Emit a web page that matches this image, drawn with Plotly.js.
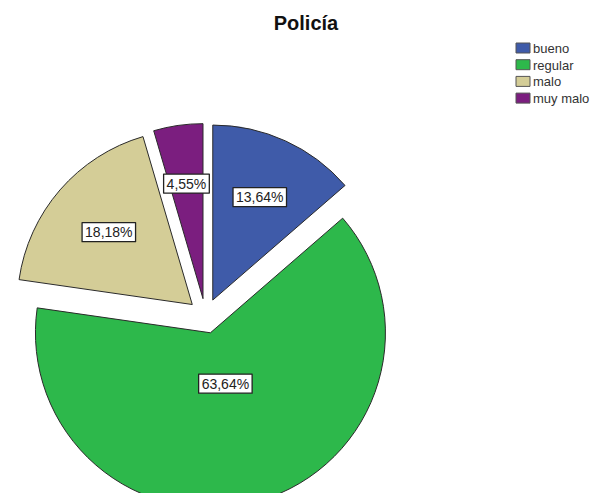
<!DOCTYPE html>
<html>
<head>
<meta charset="utf-8">
<script src="https://cdn.plot.ly/plotly-3.0.1.min.js"></script>
<style>
html, body { margin:0; padding:0; overflow:hidden; background:#fff; }
#chart { width:596px; height:560px; }
</style>
</head>
<body>
<div id="chart"></div>
<script>
const categories = ['bueno', 'regular', 'malo', 'muy malo'];
const counts = [3, 14, 4, 1];
const sliceColors = ['#3F5BA9', '#2DB84B', '#D4CD97', '#7B1E7F'];
const chartTitle = 'Policía';

const W = 596, H = 560;
const PULL = 0.1;
const FONT = 'Liberation Sans, Arial, sans-serif';

const trace = {
  type: 'pie',
  labels: categories,
  values: counts,
  sort: false,
  direction: 'clockwise',
  rotation: 0,
  pull: categories.map(function () { return PULL; }),
  marker: { colors: sliceColors, line: { color: '#2a2a2a', width: 1 } },
  texttemplate: '%{percent:.2%}',
  textposition: 'inside',
  insidetextorientation: 'horizontal',
  textfont: { family: FONT, size: 14, color: '#222' },
  hoverinfo: 'none',
  domain: { x: [0.0218, 0.6678], y: [0.0920, 0.7795] }
};

const layout = {
  width: W, height: H,
  margin: { l: 0, r: 0, t: 0, b: 0, autoexpand: false },
  paper_bgcolor: '#fff',
  separators: ',.',
  title: {
    text: '<b>' + chartTitle + '</b>',
    font: { family: FONT, size: 20, color: '#111' },
    x: 306 / W, xanchor: 'center',
    y: 1 - 23 / H, yanchor: 'middle', yref: 'container'
  },
  showlegend: true,
  legend: {
    x: 503 / W, xanchor: 'left',
    y: 1 - 39 / H, yanchor: 'top',
    font: { family: FONT, size: 13, color: '#333' },
    bgcolor: 'rgba(0,0,0,0)',
    itemclick: false
  }
};

Plotly.newPlot('chart', [trace], layout, { staticPlot: true, displayModeBar: false }).then(function (gd) {
  const svgns = 'http://www.w3.org/2000/svg';
  const cd0 = gd.calcdata[0][0];
  const total = counts.reduce(function (a, b) { return a + b; }, 0);
  // label anchor: centroid of each (pulled) sector, derived from the data
  let cum = 0;
  const anchors = counts.map(function (v) {
    const theta = 2 * Math.PI * v / total;
    const mid = 2 * Math.PI * (cum + v / 2) / total;
    cum += v;
    const ux = Math.sin(mid), uy = -Math.cos(mid);
    const d = cd0.r * PULL + cd0.r * 4 * Math.sin(theta / 2) / (3 * theta);
    return [cd0.cx + ux * d, cd0.cy + uy * d];
  });
  document.querySelectorAll('.slice').forEach(function (s, i) {
    const t = s.querySelector('.slicetext');
    if (!t) return;
    t.setAttribute('transform', '');
    const bb = t.getBBox();
    const dx = anchors[i][0] - (bb.x + bb.width / 2);
    const dy = anchors[i][1] - (bb.y + bb.height / 2);
    const tr = 'translate(' + dx + ',' + dy + ')';
    t.setAttribute('transform', tr);
    const r = document.createElementNS(svgns, 'rect');
    r.setAttribute('x', bb.x - 3);
    r.setAttribute('y', bb.y - 1.5);
    r.setAttribute('width', bb.width + 6);
    r.setAttribute('height', bb.height + 3);
    r.setAttribute('fill', '#fff');
    r.setAttribute('stroke', '#222');
    r.setAttribute('stroke-width', '1.3');
    r.setAttribute('transform', tr);
    t.parentNode.insertBefore(r, t);
  });
  // legend rows spaced like the reference
  const sb = document.querySelector('.legend .scrollbox');
  if (sb) sb.removeAttribute('clip-path');
  document.querySelectorAll('.legend .traces').forEach(function (g, i) {
    g.setAttribute('transform', 'translate(0,' + (9 + i * 16.7) + ')');
    const sym = g.querySelector('.legendpoints path');
    if (sym) { sym.setAttribute('d', 'M7,5H-7V-5H7Z'); sym.style.strokeWidth = '1px'; sym.style.stroke = '#555'; }
    const txt = g.querySelector('.legendtext');
    if (txt) { txt.setAttribute('x', 30); }
  });
});
</script>
</body>
</html>
